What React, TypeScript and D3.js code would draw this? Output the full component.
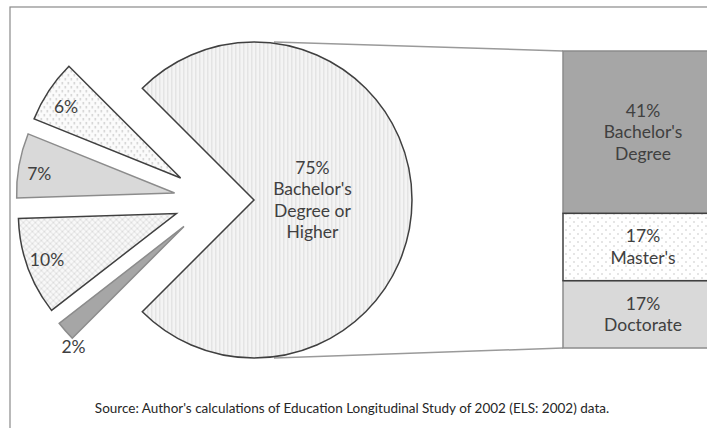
import React, { useRef, useEffect } from 'react';
import * as d3 from 'd3';

// Pie shares (percent), in clockwise order starting with the split slice
const mainLabel = ['75%', "Bachelor's", 'Degree or', 'Higher'];
const mainShare = 75;
// remaining slices, clockwise from the bottom of the opening (labels are rounded)
const otherShares = [2.0, 10.0, 6.6, 6.4];
const otherFills = ['solid-dark', 'cross', 'solid-light', 'dash'];

// Bar that breaks down the 75% slice, top to bottom
const barCategories = ["Bachelor's Degree", "Master's", 'Doctorate'];
const barValues = [41, 17, 17];
const barFills = ['solid-dark', 'dots', 'solid-light'];

const sourceNote =
  "Source: Author's calculations of Education Longitudinal Study of 2002 (ELS: 2002) data.";

const W = 707;
const H = 428;
const FONT = 'Lato, "Open Sans", sans-serif';
const TEXT = '#404040';
const LINE_H = 21.5;

const App: React.FC = () => {
  const svgRef = useRef<SVGSVGElement>(null);

  useEffect(() => {
    if (!svgRef.current) return;
    const svg = d3.select(svgRef.current);
    svg.selectAll('*').remove();

    // patterns
    const defs = svg.append('defs');
    const vstripe = defs
      .append('pattern')
      .attr('id', 'vstripe')
      .attr('patternUnits', 'userSpaceOnUse')
      .attr('width', 4)
      .attr('height', 4);
    vstripe.append('rect').attr('width', 4).attr('height', 4).attr('fill', '#f4f4f4');
    vstripe.append('rect').attr('x', 1).attr('width', 1.5).attr('height', 4).attr('fill', '#e4e4e4');

    const dash = defs
      .append('pattern')
      .attr('id', 'dash')
      .attr('patternUnits', 'userSpaceOnUse')
      .attr('width', 6)
      .attr('height', 8);
    dash.append('rect').attr('width', 6).attr('height', 8).attr('fill', '#fbfbfb');
    dash.append('rect').attr('x', 1).attr('y', 0).attr('width', 1.2).attr('height', 2.5).attr('fill', '#c8c8c8');
    dash.append('rect').attr('x', 4).attr('y', 4).attr('width', 1.2).attr('height', 2.5).attr('fill', '#c8c8c8');

    const cross = defs
      .append('pattern')
      .attr('id', 'cross')
      .attr('patternUnits', 'userSpaceOnUse')
      .attr('width', 6)
      .attr('height', 6);
    cross.append('rect').attr('width', 6).attr('height', 6).attr('fill', '#f8f8f8');
    cross
      .append('path')
      .attr('d', 'M0,0L6,6M6,0L0,6')
      .attr('stroke', '#d6d6d6')
      .attr('stroke-width', 0.8);

    const dots = defs
      .append('pattern')
      .attr('id', 'dots')
      .attr('patternUnits', 'userSpaceOnUse')
      .attr('width', 8)
      .attr('height', 8);
    dots.append('rect').attr('width', 8).attr('height', 8).attr('fill', '#ffffff');
    dots.append('circle').attr('cx', 2).attr('cy', 2).attr('r', 0.8).attr('fill', '#c4c4c4');
    dots.append('circle').attr('cx', 6).attr('cy', 6).attr('r', 0.8).attr('fill', '#c4c4c4');

    const fillOf = (k: string) =>
      k === 'solid-dark' ? '#a6a6a6' : k === 'solid-light' ? '#d9d9d9' : `url(#${k})`;
    const strokeOf = (k: string) => (k.startsWith('solid') ? '#8c8c8c' : '#404040');

    // frame
    svg
      .append('rect')
      .attr('x', 10)
      .attr('y', 7)
      .attr('width', W)
      .attr('height', H)
      .attr('fill', 'white')
      .attr('stroke', '#8a8a8a')
      .attr('stroke-width', 1.2);

    // pie
    const cx = 214;
    const cy = 200;
    const r = 158;
    const explode = 40;

    const shares = [mainShare, ...otherShares];
    const pie = d3
      .pie<number>()
      .sort(null)
      .value((d) => d)
      .startAngle(-Math.PI / 4)
      .endAngle((7 * Math.PI) / 4);
    const arcs = pie(shares);
    const arc = d3.arc<d3.PieArcDatum<number>>().innerRadius(0).outerRadius(r);

    const mid = (a: d3.PieArcDatum<number>) => (a.startAngle + a.endAngle) / 2;
    const offset = (a: d3.PieArcDatum<number>, dist: number): [number, number] => {
      const m = mid(a);
      return [Math.sin(m) * dist, -Math.cos(m) * dist];
    };

    const bar = { x: 563, top: 51, bottom: 348, width: 170 };
    const mainArc = arcs[0];
    const [mdx, mdy] = offset(mainArc, explode);

    // connector lines from split slice to bar
    const lines = svg.append('g').attr('stroke', '#9a9a9a').attr('stroke-width', 1.5);
    lines
      .append('line')
      .attr('x1', cx + mdx + 20)
      .attr('y1', cy + mdy - r)
      .attr('x2', bar.x)
      .attr('y2', bar.top);
    lines
      .append('line')
      .attr('x1', cx + mdx + 20)
      .attr('y1', cy + mdy + r)
      .attr('x2', bar.x)
      .attr('y2', bar.bottom);

    const pg = svg.append('g').attr('transform', `translate(${cx},${cy})`);
    arcs.forEach((a, i) => {
      const [dx, dy] = offset(a, explode);
      const kind = i === 0 ? 'vstripe' : otherFills[i - 1];
      pg.append('path')
        .attr('transform', `translate(${dx},${dy})`)
        .attr('d', arc(a) as string)
        .attr('fill', i === 0 ? 'url(#vstripe)' : fillOf(kind))
        .attr('stroke', i === 0 ? '#404040' : strokeOf(kind))
        .attr('stroke-width', 1.5)
        .attr('stroke-linejoin', 'miter');
    });

    // bar of the split slice
    const y = d3
      .scaleLinear()
      .domain([0, d3.sum(barValues)])
      .range([bar.top, bar.bottom]);
    const stackStart = d3.cumsum([0, ...barValues]);
    const bg = svg.append('g');
    barValues.forEach((v, i) => {
      const y0 = y(stackStart[i]);
      const y1 = y(stackStart[i + 1]);
      bg.append('rect')
        .attr('x', bar.x)
        .attr('y', y0)
        .attr('width', bar.width)
        .attr('height', y1 - y0)
        .attr('fill', fillOf(barFills[i]))
        .attr('stroke', strokeOf(barFills[i]))
        .attr('stroke-width', 1.5);
    });
    // keep the outlined segment on top
    bg.selectAll('rect').filter((_, i) => barFills[i] === 'dots').raise();

    // labels
    const lab = svg
      .append('g')
      .attr('font-family', FONT)
      .attr('font-size', 17.5)
      .attr('fill', TEXT)
      .attr('text-anchor', 'middle');

    const [lx, ly] = offset(mainArc, explode + r * 0.37);
    const mainText = lab
      .append('text')
      .attr('x', cx + lx)
      .attr('y', cy + ly - 1.5 * LINE_H);
    mainLabel.forEach((t, i) =>
      mainText
        .append('tspan')
        .attr('x', cx + lx)
        .attr('dy', i === 0 ? '0.35em' : LINE_H)
        .text(t)
    );

    arcs.slice(1).forEach((a) => {
      let ox: number;
      let oy: number;
      if (a.data < 3) {
        // tiny slice: label sits just below its tip
        [ox, oy] = offset(a, explode + r);
        ox += 8;
        oy += 16;
      } else {
        [ox, oy] = offset(a, explode + r * 0.87);
        if (oy < 0) oy += 5;
      }
      lab
        .append('text')
        .attr('x', cx + ox)
        .attr('y', cy + oy)
        .attr('dy', '0.35em')
        .text(`${Math.round(a.data)}%`);
    });

    const barCx = 643;
    barValues.forEach((v, i) => {
      const yc = (y(stackStart[i]) + y(stackStart[i + 1])) / 2;
      const words = barCategories[i].split(' ');
      const linesTxt = [`${v}%`, ...words];
      const t = lab
        .append('text')
        .attr('x', barCx)
        .attr('y', yc - ((linesTxt.length - 1) / 2) * LINE_H);
      linesTxt.forEach((s, j) =>
        t
          .append('tspan')
          .attr('x', barCx)
          .attr('dy', j === 0 ? '0.35em' : LINE_H)
          .text(s)
      );
    });

    // source
    svg
      .append('text')
      .attr('x', 352)
      .attr('y', 408)
      .attr('dy', '0.35em')
      .attr('text-anchor', 'middle')
      .attr('font-family', FONT)
      .attr('font-size', 13.5)
      .attr('fill', '#262626')
      .text(sourceNote);
  }, []);

  return (
    <svg
      ref={svgRef}
      width={W}
      height={H}
      style={{ position: 'absolute', left: 0, top: 0, display: 'block', background: 'white' }}
    />
  );
};

export default App;
